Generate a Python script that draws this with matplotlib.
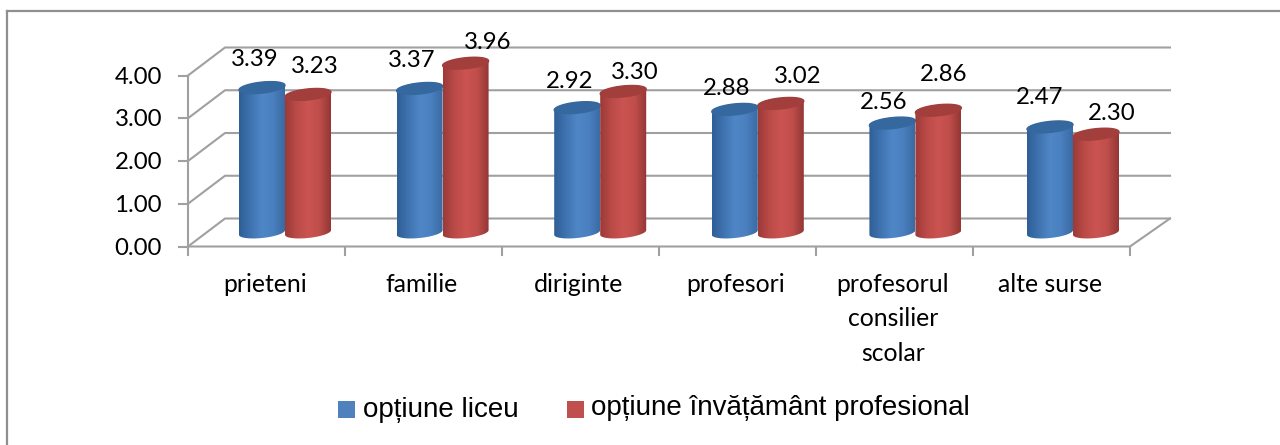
import numpy as np
import matplotlib
matplotlib.use("Agg")
import matplotlib.pyplot as plt
from matplotlib.lines import Line2D
from matplotlib.patches import Polygon, Rectangle
from matplotlib.colors import LinearSegmentedColormap

categories = ["prieteni", "familie", "diriginte", "profesori", "profesorul\nconsilier\nscolar", "alte surse"]
liceu = [3.39, 3.37, 2.92, 2.88, 2.56, 2.47]
profesional = [3.23, 3.96, 3.30, 3.02, 2.86, 2.30]
y_ticks = [0, 1, 2, 3, 4]
series_names = ["opțiune liceu", "opțiune învățământ profesional"]

# hand moved data labels, pixels from the top of each bar
liceu_label_dx = [-7, -8, -8, -8, -9, -10]
liceu_label_dy = [28, 28, 26, 21, 21, 29]
prof_label_dx = [7, 22, 12, 17, 5, 16]
prof_label_dy = [28, 21, 19, 27, 36, 21]

W, H = 1280, 445
fig = plt.figure(figsize=(W / 100, H / 100), dpi=100)
# chart frame, only left and top are inside the crop
frame = "#8f8f8f"
fig.add_artist(Line2D([7 / W, 7 / W], [0, 1 - 11 / H], color=frame, lw=1.6))
fig.add_artist(Line2D([7 / W, 1], [1 - 11 / H, 1 - 11 / H], color=frame, lw=1.6))

x0, x1, y_bot, y_top = 188, 1130, 246.5, 75.5
ax = fig.add_axes([x0 / W, 1 - y_bot / H, (x1 - x0) / W, (y_bot - y_top) / H])
ax.axis("off")

# pixels to data units
ux = 6 / (x1 - x0)
uy = 4 / (y_bot - y_top)
dx, dy = 37 * ux, 28 * uy  # depth of the 3d box
dx_right = 40 * ux
grid = "#a0a0a0"
font = "Lato"

for v in y_ticks:
    ax.plot([0, dx, 6 + dx_right], [v, v + dy, v + dy], color=grid, lw=1.5, clip_on=False, zorder=1)
    ax.plot([-9 * ux, 0], [v, v], color=grid, lw=1.5, clip_on=False, zorder=1)
    ax.text(-26 * ux, v - 1.5 * uy, f"{v:.2f}", ha="right", va="center", fontsize=17.3,
            family=font, color="black", clip_on=False)
ax.plot([0, 0], [0, 4], color=grid, lw=1.5, clip_on=False, zorder=1)
ax.plot([0, 6, 6 + dx_right], [0, 0, dy], color=grid, lw=1.5, clip_on=False, zorder=1)
for i in range(7):
    ax.plot([i, i], [0, -8 * uy], color=grid, lw=1.5, clip_on=False, zorder=1)

for i, c in enumerate(categories):
    ax.text(i + 0.5 - 1.5 * ux, -26 * uy, c, ha="center", va="top", fontsize=17.8, family=font,
            linespacing=1.62, clip_on=False)

blue_map = LinearSegmentedColormap.from_list("b", ["#2f5f96", "#3f73b0", "#4f86c6", "#4a80bf", "#3a6aa3"])
red_map = LinearSegmentedColormap.from_list("r", ["#9c3a38", "#bb4b48", "#cb5451", "#c04e4b", "#943735"])
grad = np.linspace(0, 1, 64).reshape(1, -1)


def cylinder(cx, val, cmap, top_color, z):
    a = 23 * ux
    b = 5.5 * uy
    tilt = 0.1 * uy / ux
    base = dy / 2
    t = np.linspace(0, np.pi, 40)
    # lower edge of the base, then upper edge of the top
    low_x = cx + a * np.cos(t + np.pi)
    low_y = base + b * np.sin(t + np.pi) + tilt * (low_x - cx)
    up_x = cx + a * np.cos(t)
    up_y = base + val + b * np.sin(t) + tilt * (up_x - cx)
    body = Polygon(np.column_stack([np.r_[low_x, up_x], np.r_[low_y, up_y]]), closed=True,
                   transform=ax.transData, fc="none", ec="none")
    ax.add_patch(body)
    im = ax.imshow(grad, cmap=cmap, extent=[cx - a, cx + a, base - 2 * b, base + val + 2 * b],
                   aspect="auto", zorder=z, interpolation="bilinear")
    im.set_clip_path(body)
    im.set_clip_box(fig.bbox)  # the tallest bar goes above the axes box
    tt = np.linspace(0, 2 * np.pi, 60)
    top_x = cx + a * np.cos(tt)
    top_y = base + val + b * np.sin(tt) + tilt * (top_x - cx)
    ax.fill(top_x, top_y, color=top_color, zorder=z + 0.1, clip_on=False)


half = 23 * ux
for i in range(len(categories)):
    left = (262 - x0 + 157.6 * i) * ux
    right = left + 2 * half
    cylinder(left, liceu[i], blue_map, "#35689f", 3)
    cylinder(right, profesional[i], red_map, "#a23f3c", 4)
    ax.text(left + liceu_label_dx[i] * ux, dy / 2 + liceu[i] + liceu_label_dy[i] * uy, f"{liceu[i]:.2f}",
            ha="center", va="center", fontsize=17.3, family=font, clip_on=False, zorder=6)
    ax.text(right + prof_label_dx[i] * ux, dy / 2 + profesional[i] + prof_label_dy[i] * uy, f"{profesional[i]:.2f}",
            ha="center", va="center", fontsize=17.3, family=font, clip_on=False, zorder=6)
ax.set_xlim(0, 6)
ax.set_ylim(0, 4)

# legend placed by hand
fig.add_artist(Rectangle((338 / W, 1 - 418 / H), 17 / W, 17 / H, transform=fig.transFigure,
                         fc="#4f81bd", ec="none"))
fig.add_artist(Rectangle((567 / W, 1 - 418 / H), 17 / W, 17 / H, transform=fig.transFigure,
                         fc="#c0504d", ec="none"))
fig.text(363 / W, 1 - 410 / H, series_names[0], fontsize=20, family="Liberation Sans", va="center")
fig.text(591 / W, 1 - 408 / H, series_names[1], fontsize=20, family="Liberation Sans", va="center")

fig.savefig("out.png", dpi=100)
